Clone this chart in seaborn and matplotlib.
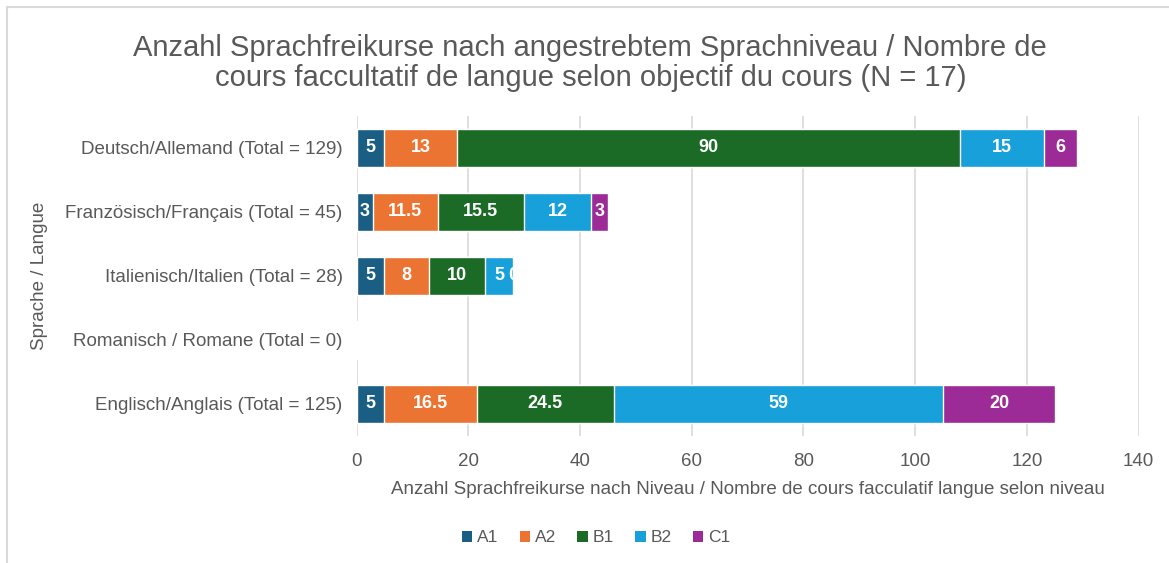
import matplotlib
matplotlib.use("Agg")
import matplotlib.pyplot as plt
from matplotlib.lines import Line2D
from matplotlib.patches import Patch
import seaborn as sns
import pandas as pd
import numpy as np

# ---- data ----
languages = [
    "Deutsch/Allemand (Total = 129)",
    "Französisch/Français (Total = 45)",
    "Italienisch/Italien (Total = 28)",
    "Romanisch / Romane (Total = 0)",
    "Englisch/Anglais (Total = 125)",
]
levels = ["A1", "A2", "B1", "B2", "C1"]
a1 = [5, 3, 5, 0, 5]
a2 = [13, 11.5, 8, 0, 16.5]
b1 = [90, 15.5, 10, 0, 24.5]
b2 = [15, 12, 5, 0, 59]
c1 = [6, 3, 0, 0, 20]
colors = ["#1B5E84", "#EC7432", "#1B6B27", "#17A0DA", "#9C2B98"]

sns.set_theme(style="white")
plt.rcParams["font.family"] = ["Liberation Sans", "DejaVu Sans"]
grey = "#595959"

df = pd.DataFrame({"Sprache": languages, "A1": a1, "A2": a2, "B1": b1, "B2": b2, "C1": c1})
cum = df[levels].cumsum(axis=1)

fig = plt.figure(figsize=(11.69, 5.63), dpi=100)
ax = fig.add_axes([0.305, 0.2256, 0.669, 0.5684])

# stacked bars: widest cumulative first, narrower ones on top
for lev, col in reversed(list(zip(levels, colors))):
    sns.barplot(x=cum[lev], y=df["Sprache"], order=languages, orient="h",
                color=col, width=0.58, saturation=1, ax=ax, zorder=3)

# segment labels
for i in range(len(languages)):
    start = 0
    for lev in levels:
        val = df.loc[i, lev]
        ax.text(start + val / 2, i, f"{val:g}", ha="center", va="center",
                color="white", fontsize=13, fontweight="bold", zorder=4)
        start += val

ax.set_xlim(0, 140)
ax.set_xticks(np.arange(0, 141, 20))
ax.set_ylim(4.5, -0.5)
ax.grid(axis="x", color="#D9D9D9", linewidth=1.2, zorder=0)
ax.set_axisbelow(True)
for s in ax.spines.values():
    s.set_visible(False)
ax.tick_params(axis="y", pad=10, length=0, labelsize=13.5, labelcolor=grey)
ax.tick_params(axis="x", pad=12, length=0, labelsize=13.5, labelcolor=grey)
ax.set_xlabel("Anzahl Sprachfreikurse nach Niveau / Nombre de cours facculatif langue selon niveau",
              fontsize=13.5, color=grey, labelpad=8)
ax.set_ylabel("Sprache / Langue", fontsize=13.5, color=grey)
ax.yaxis.set_label_coords(-0.395, 0.5)

fig.text(0.505, 0.888, "Anzahl Sprachfreikurse nach angestrebtem Sprachniveau / Nombre de\n"
         "cours faccultatif de langue selon objectif du cours (N = 17)",
         ha="center", va="center", fontsize=21, color=grey, linespacing=1.1)

handles = [Patch(facecolor=c, edgecolor="none") for c in colors]
fig.legend(handles, levels, loc="center", bbox_to_anchor=(0.51, 0.045), ncol=5,
           frameon=False, fontsize=12.5, labelcolor=grey, handlelength=0.6,
           handleheight=0.6, handletextpad=0.3, columnspacing=1.2)

# frame lines of the chart area
fig.add_artist(Line2D([0.006, 1.0], [0.988, 0.988], color="#D9D9D9", linewidth=1.5, transform=fig.transFigure))
fig.add_artist(Line2D([0.006, 0.006], [0.0, 0.988], color="#D9D9D9", linewidth=1.5, transform=fig.transFigure))

fig.savefig("out.png", dpi=100)
